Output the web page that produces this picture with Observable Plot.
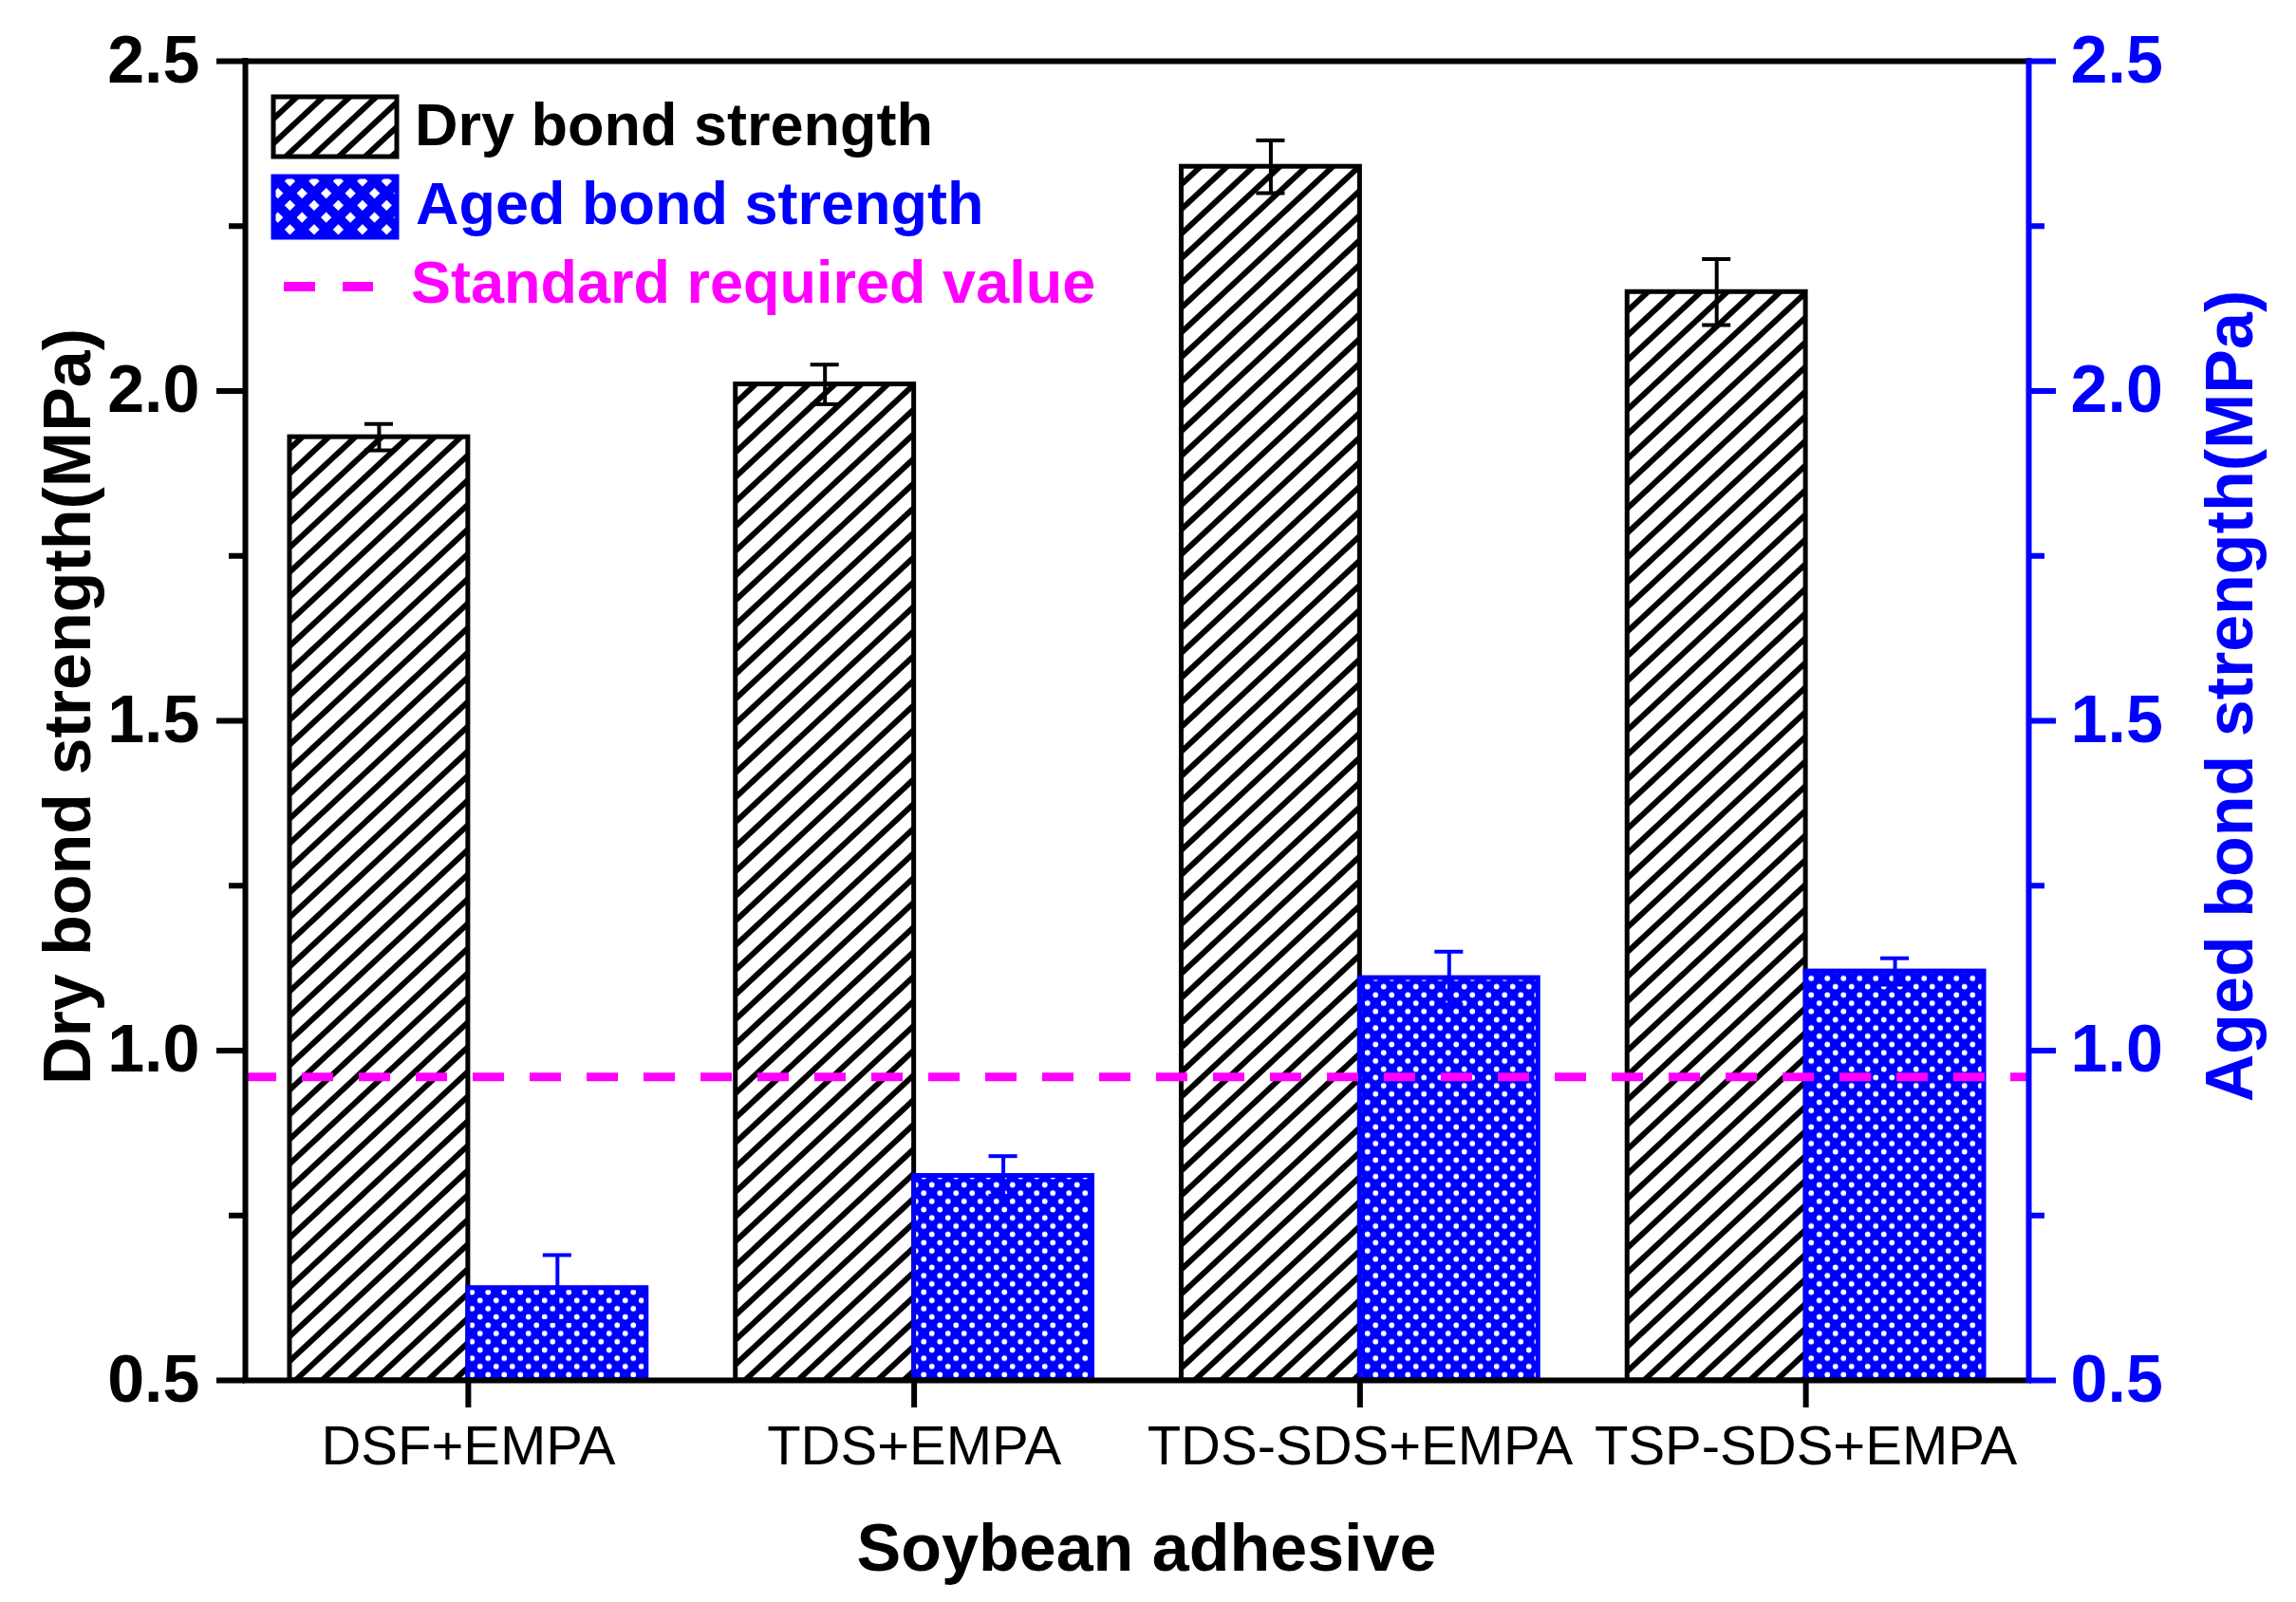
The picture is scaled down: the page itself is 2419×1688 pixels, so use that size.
<!DOCTYPE html>
<html>
<head>
<meta charset="utf-8">
<script src="https://cdn.jsdelivr.net/npm/d3@7"></script>
<script src="https://cdn.jsdelivr.net/npm/@observablehq/plot@0.6"></script>
<style>
  html, body { margin: 0; padding: 0; background: #fff; }
  #chart { width: 2419px; height: 1688px; }
</style>
</head>
<body>
<div id="chart"></div>
<script>
// ---- data ----
const categories = ["DSF+EMPA", "TDS+EMPA", "TDS-SDS+EMPA", "TSP-SDS+EMPA"];
const dryValues  = [1.93, 2.01, 2.34, 2.15];
const dryErrors  = [0.02, 0.03, 0.04, 0.05];
const agedValues = [0.64, 0.81, 1.11, 1.12];
const agedErrors = [0.05, 0.03, 0.04, 0.02];
const standardValue = 0.96;
const yTicks = [0.5, 1.0, 1.5, 2.0, 2.5];
const yMinorTicks = [0.75, 1.25, 1.75, 2.25];
const seriesNames = ["Dry bond strength", "Aged bond strength", "Standard required value"];
const xTitle = "Soybean adhesive";
const yTitleLeft = "Dry bond strength(MPa)";
const yTitleRight = "Aged bond strength(MPa)";

// ---- styling ----
const BLUE = "#0000ff", MAGENTA = "#ff00ff", BLACK = "#000000";
const FONT = "'Liberation Sans', Arial, Helvetica, sans-serif";
const yDomain = [0.5, 2.5];
const halfBar = 0.4;     // bar width in group units
const capHalf = 0.032;   // error cap half width in group units
const AXW = 6;

const dry = categories.map((c, i) => ({i, cat: c, value: dryValues[i], err: dryErrors[i]}));
const aged = categories.map((c, i) => ({i, cat: c, value: agedValues[i], err: agedErrors[i]}));
const dryC = d => d.i + 0.5 - halfBar / 2;
const agedC = d => d.i + 0.5 + halfBar / 2;

const axisCommon = {strokeWidth: AXW, label: null};

const plot = Plot.plot({
  width: 2419,
  height: 1688,
  marginLeft: 258,
  marginRight: 282,
  marginTop: 64,
  marginBottom: 234,
  x: {type: "linear", domain: [0, categories.length]},
  y: {domain: yDomain, label: null},
  style: {fontFamily: FONT, background: "white", overflow: "visible", color: BLACK},
  marks: [
    // bars
    Plot.rect(dry, {x1: d => d.i + 0.5 - halfBar, x2: d => d.i + 0.5, y1: yDomain[0], y2: "value",
      fill: "url(#dryHatch)", stroke: BLACK, strokeWidth: 5}),
    Plot.rect(aged, {x1: d => d.i + 0.5, x2: d => d.i + 0.5 + halfBar, y1: yDomain[0], y2: "value",
      fill: "url(#agedDots)", stroke: BLUE, strokeWidth: 5}),
    // standard line
    Plot.ruleY([standardValue], {stroke: MAGENTA, strokeWidth: 9, strokeDasharray: "33,27"}),
    // error bars
    Plot.ruleX(dry, {x: dryC, y1: d => d.value - d.err, y2: d => d.value + d.err, stroke: BLACK, strokeWidth: 4}),
    Plot.ruleY(dry, {y: d => d.value + d.err, x1: d => dryC(d) - capHalf, x2: d => dryC(d) + capHalf, stroke: BLACK, strokeWidth: 4}),
    Plot.ruleY(dry, {y: d => d.value - d.err, x1: d => dryC(d) - capHalf, x2: d => dryC(d) + capHalf, stroke: BLACK, strokeWidth: 4}),
    Plot.ruleX(aged, {x: agedC, y1: d => d.value - d.err, y2: d => d.value + d.err, stroke: BLUE, strokeWidth: 4}),
    Plot.ruleY(aged, {y: d => d.value + d.err, x1: d => agedC(d) - capHalf, x2: d => agedC(d) + capHalf, stroke: BLUE, strokeWidth: 4}),
    Plot.ruleY(aged, {y: d => d.value - d.err, x1: d => agedC(d) - capHalf, x2: d => agedC(d) + capHalf, stroke: BLUE, strokeWidth: 4}),
    // frame
    Plot.ruleY([yDomain[1]], {stroke: BLACK, strokeWidth: AXW, strokeLinecap: "square"}),
    Plot.ruleY([yDomain[0]], {stroke: BLACK, strokeWidth: AXW, strokeLinecap: "square"}),
    Plot.ruleX([0], {stroke: BLACK, strokeWidth: AXW, strokeLinecap: "square"}),
    Plot.ruleX([categories.length], {stroke: BLUE, strokeWidth: AXW, strokeLinecap: "square"}),
    // axes
    Plot.axisY({...axisCommon, ticks: yTicks, anchor: "left", tickSize: 30, tickPadding: 18,
      fontSize: 70, fontWeight: "bold", tickFormat: d3.format(".1f"), color: BLACK}),
    Plot.axisY({...axisCommon, ticks: yMinorTicks, anchor: "left", tickSize: 17, tickFormat: () => "", color: BLACK}),
    Plot.axisY({...axisCommon, ticks: yTicks, anchor: "right", tickSize: 28, tickPadding: 16,
      fontSize: 70, fontWeight: "bold", tickFormat: d3.format(".1f"), color: BLUE}),
    Plot.axisY({...axisCommon, ticks: yMinorTicks, anchor: "right", tickSize: 16, tickFormat: () => "", color: BLUE}),
    Plot.axisX({...axisCommon, ticks: categories.map((c, i) => i + 0.5), anchor: "bottom", tickSize: 29, tickPadding: 18,
      fontSize: 58, tickFormat: v => categories[Math.floor(v)], color: BLACK}),
    // titles
    Plot.text([yTitleLeft], {text: d => d, frameAnchor: "left", dx: -186, dy: -15, rotate: -90,
      textAnchor: "middle", lineAnchor: "middle", fontSize: 70, fontWeight: "bold", fill: BLACK}),
    Plot.text([yTitleRight], {text: d => d, frameAnchor: "right", dx: 213, dy: -26, rotate: -90,
      textAnchor: "middle", lineAnchor: "middle", fontSize: 70, fontWeight: "bold", fill: BLUE}),
    Plot.text([xTitle], {text: d => d, frameAnchor: "bottom", dx: 10, dy: 178,
      textAnchor: "middle", lineAnchor: "middle", fontSize: 70, fontWeight: "bold", fill: BLACK})
  ]
});

// ---- patterns ----
const svg = d3.select(plot);
const defs = svg.insert("defs", ":first-child");
const hatch = defs.append("pattern").attr("id", "dryHatch").attr("patternUnits", "userSpaceOnUse")
  .attr("width", 10).attr("height", 19).attr("patternTransform", "rotate(-43)");
hatch.append("rect").attr("width", 10).attr("height", 19).attr("fill", "white");
hatch.append("rect").attr("width", 10).attr("height", 6).attr("fill", BLACK);

const dots = defs.append("pattern").attr("id", "agedDots").attr("patternUnits", "userSpaceOnUse")
  .attr("width", 17).attr("height", 17.4);
dots.append("rect").attr("width", 17).attr("height", 17.4).attr("fill", BLUE);
dots.append("circle").attr("cx", 4.25).attr("cy", 4.35).attr("r", 2.9).attr("fill", "white");
dots.append("circle").attr("cx", 12.75).attr("cy", 13.05).attr("r", 2.9).attr("fill", "white");

const diam = defs.append("pattern").attr("id", "agedLegend").attr("patternUnits", "userSpaceOnUse")
  .attr("width", 18).attr("height", 18).attr("patternTransform", "rotate(45)");
diam.append("rect").attr("width", 18).attr("height", 18).attr("fill", BLUE);
diam.append("rect").attr("x", 5).attr("y", 5).attr("width", 8).attr("height", 8).attr("fill", "white");

// ---- legend (inside the plot area) ----
const lg = svg.append("g").attr("font-family", FONT).attr("font-weight", "bold")
  .attr("font-size", 63).attr("text-anchor", "start");
lg.append("rect").attr("x", 288).attr("y", 102).attr("width", 130).attr("height", 63)
  .attr("fill", "url(#dryHatch)").attr("stroke", BLACK).attr("stroke-width", 5);
lg.append("text").attr("x", 437).attr("y", 153).attr("fill", BLACK).text(seriesNames[0]);
lg.append("rect").attr("x", 288).attr("y", 186).attr("width", 130).attr("height", 64)
  .attr("fill", "url(#agedLegend)").attr("stroke", BLUE).attr("stroke-width", 5);
lg.append("text").attr("x", 438).attr("y", 236).attr("fill", BLUE).text(seriesNames[1]);
lg.append("line").attr("x1", 299).attr("x2", 393).attr("y1", 302).attr("y2", 302)
  .attr("stroke", MAGENTA).attr("stroke-width", 10).attr("stroke-dasharray", "33,29");
lg.append("text").attr("x", 433).attr("y", 319).attr("fill", MAGENTA).text(seriesNames[2]);

document.getElementById("chart").appendChild(plot);
</script>
</body>
</html>
